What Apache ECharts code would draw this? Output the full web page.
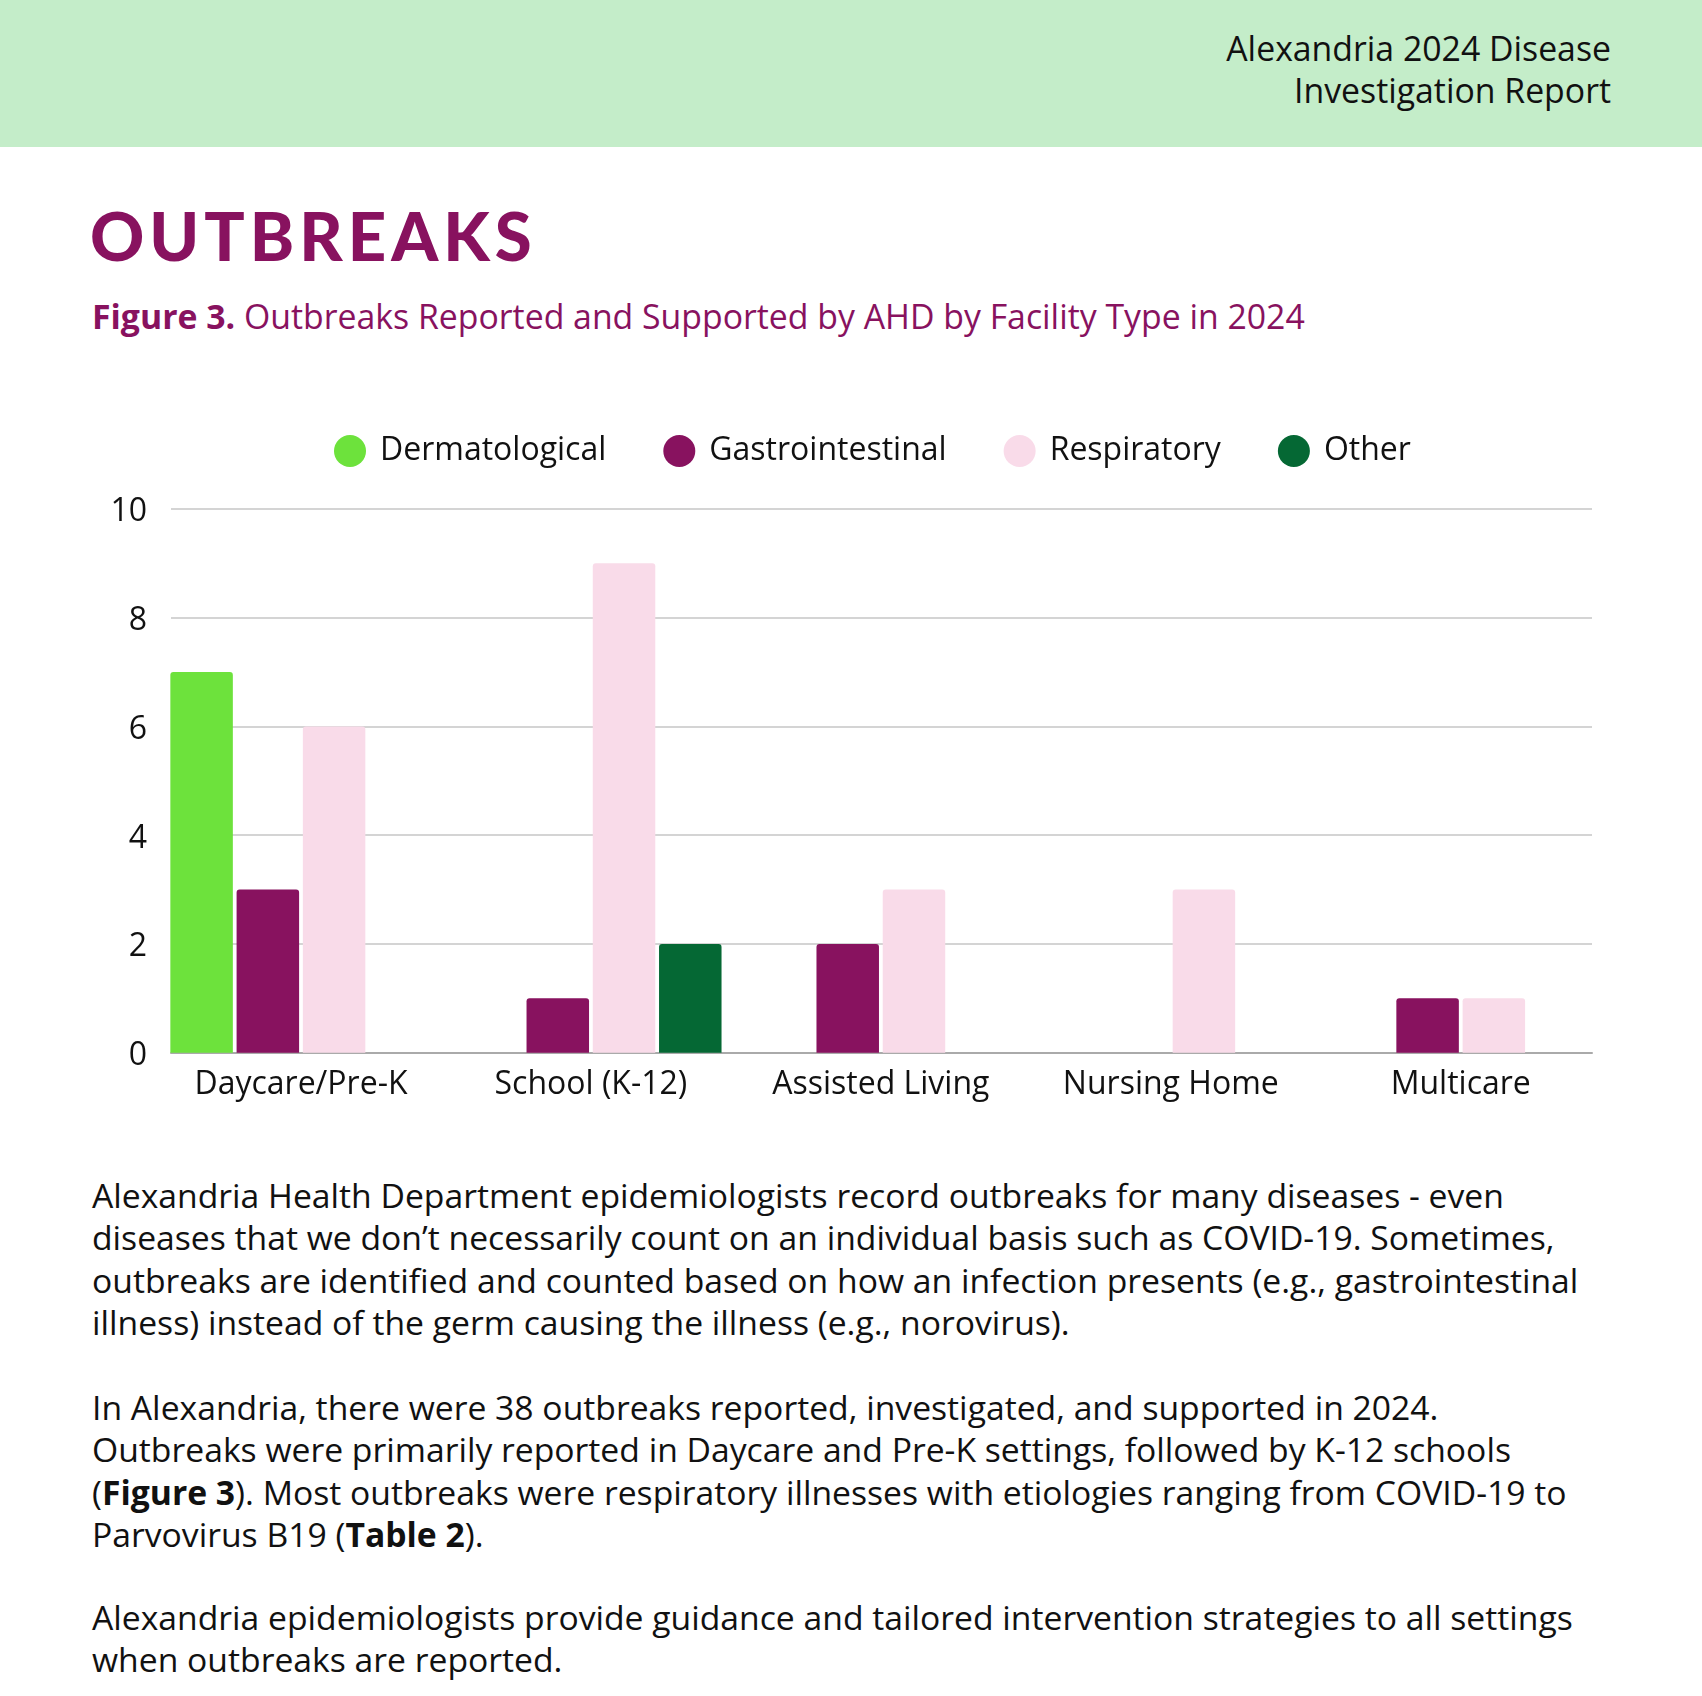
<!DOCTYPE html>
<html>
<head>
<meta charset="utf-8">
<script src="https://cdn.jsdelivr.net/npm/echarts@6/dist/echarts.min.js"></script>
<style>
  html, body { margin: 0; padding: 0; background: #ffffff; }
  body { width: 1702px; height: 1696px; position: relative; overflow: hidden; font-family: "Open Sans", sans-serif; color: #111; }
  #band { position: absolute; left: 0; top: 0; width: 1702px; height: 147px; background: #c4edc9; }
  #hdr { position: absolute; right: 91px; top: 27px; text-align: right; font-size: 33.8px; line-height: 42.3px; color: #111; white-space: nowrap; }
  #title { position: absolute; left: 90px; top: 190px; font-family: Lato, "Open Sans", sans-serif; font-weight: 900; font-size: 67px; line-height: 90px; color: #88125f; letter-spacing: 5px; white-space: nowrap; }
  #sub { position: absolute; left: 92px; top: 294px; font-size: 33.8px; line-height: 44px; color: #88125f; white-space: nowrap; }
  #chart { position: absolute; left: 0; top: 380px; width: 1702px; height: 760px; }
  .p { position: absolute; left: 92px; font-size: 33.7px; line-height: 42.3px; white-space: pre; color: #111; }
</style>
</head>
<body>
<div id="band"></div>
<div id="hdr">Alexandria 2024 Disease<br>Investigation Report</div>
<div id="title">OUTBREAKS</div>
<div id="sub"><b>Figure 3.</b> Outbreaks Reported and Supported by AHD by Facility Type in 2024</div>
<div id="chart"></div>
<div class="p" style="top:1174px">Alexandria Health Department epidemiologists record outbreaks for many diseases - even
diseases that we don’t necessarily count on an individual basis such as COVID-19. Sometimes,
outbreaks are identified and counted based on how an infection presents (e.g., gastrointestinal
illness) instead of the germ causing the illness (e.g., norovirus).</div>
<div class="p" style="top:1386px">In Alexandria, there were 38 outbreaks reported, investigated, and supported in 2024.
Outbreaks were primarily reported in Daycare and Pre-K settings, followed by K-12 schools
(<b>Figure 3</b>). Most outbreaks were respiratory illnesses with etiologies ranging from COVID-19 to
Parvovirus B19 (<b>Table 2</b>).</div>
<div class="p" style="top:1596px">Alexandria epidemiologists provide guidance and tailored intervention strategies to all settings
when outbreaks are reported.</div>
<script>
const categories = ["Daycare/Pre-K", "School (K-12)", "Assisted Living", "Nursing Home", "Multicare"];
const seriesNames = ["Dermatological", "Gastrointestinal", "Respiratory", "Other"];
const dermatological = [7, 0, 0, 0, 0];
const gastrointestinal = [3, 1, 2, 0, 1];
const respiratory = [6, 9, 3, 3, 1];
const other = [0, 2, 0, 0, 0];
const yTicks = [0, 2, 4, 6, 8, 10];

const colors = ["#6de23c", "#88125f", "#f9dbe9", "#056834"];
const seriesData = [dermatological, gastrointestinal, respiratory, other];

const chart = echarts.init(document.getElementById('chart'), null, { renderer: 'canvas' });
const font = '"Open Sans", sans-serif';
const yMin = yTicks[0], yMax = yTicks[yTicks.length - 1];
chart.setOption({
  animation: false,
  textStyle: { fontFamily: font },
  color: colors,
  legend: {
    data: seriesNames,
    left: 334,
    top: 55,
    padding: 0,
    icon: 'circle',
    itemWidth: 32,
    itemHeight: 32,
    itemGap: 57,
    textStyle: { fontSize: 32, lineHeight: 32, color: '#111', fontFamily: font, padding: [0, 0, 0, 9] }
  },
  grid: [
    { left: 171, right: 110, top: 129, bottom: 87.3, containLabel: false },
    { left: 156, right: 96.3, top: 129, bottom: 87.3, containLabel: false },
    { left: 171, right: 110, top: 132.3, bottom: 84, containLabel: false }
  ],
  xAxis: [
    { type: 'value', gridIndex: 0, min: 0, max: 1, axisLabel: { show: false }, axisTick: { show: false }, splitLine: { show: false },
      axisLine: { show: true, lineStyle: { color: '#aaaaaa', width: 2 } } },
    { type: 'category', gridIndex: 1, data: categories, axisLine: { show: false }, axisTick: { show: false },
      axisLabel: { fontSize: 32, color: '#111', fontFamily: font, margin: 16 } },
    { type: 'value', gridIndex: 2, min: 0, max: 1, show: false }
  ],
  yAxis: [
    { type: 'value', gridIndex: 0, min: yMin, max: yMax, interval: 2,
      axisLine: { show: false }, axisTick: { show: false }, axisLabel: { show: false },
      splitLine: { lineStyle: { color: '#c6c6c6', width: 1.5 } } },
    { type: 'value', gridIndex: 1, min: yMin, max: yMax, interval: 2, show: false, splitLine: { show: false } },
    { type: 'value', gridIndex: 2, min: yMin, max: yMax, interval: 2,
      axisLine: { show: false }, axisTick: { show: false }, splitLine: { show: false },
      axisLabel: { fontSize: 32, color: '#111', fontFamily: font, margin: 24 } }
  ],
  series: seriesNames.map((name, i) => ({
    name: name,
    type: 'bar',
    xAxisIndex: 1,
    yAxisIndex: 1,
    data: seriesData[i],
    barWidth: 62.5,
    barGap: '6%',
    itemStyle: { color: colors[i], borderRadius: [3, 3, 0, 0] }
  }))
});
</script>
</body>
</html>
